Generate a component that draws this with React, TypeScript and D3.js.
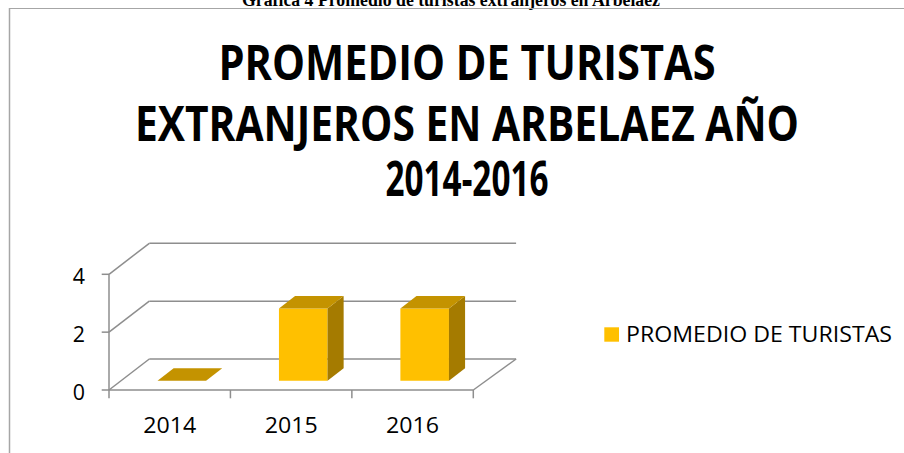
import React from "react";
import * as d3 from "d3";

const categories = ["2014", "2015", "2016"];
const values = [0, 2.5, 2.5];
const yTicks = [0, 2, 4];
const seriesName = "PROMEDIO DE TURISTAS";
const titleLines = ["PROMEDIO DE TURISTAS", "EXTRANJEROS EN ARBELAEZ AÑO", "2014-2016"];
const caption = "Gráfica 4 Promedio de turistas extranjeros en Arbelaez";

const W = 904;
const H = 453;
const DX = 40.3;
const DY = -31;
const Z0 = 0.3;
const Z1 = 0.7;
const GRID = "#8e8e8e";
const FRONT = "#FFC000";
const TOP = "#C49300";
const SIDE = "#A57B00";
const FONT = "'Open Sans', sans-serif";

export default function App() {
  const x = d3.scaleBand<string>().domain(categories).range([109, 473.3]).padding(0);
  const y = d3.scaleLinear().domain([0, 4]).range([390, 274.3]);
  const bw = x.bandwidth();
  const barW = bw / 2.5;
  const P = (px: number, py: number, z: number): [number, number] => [px + z * DX, py + z * DY];
  const poly = (pts: [number, number][]) => pts.map((p) => p.join(",")).join(" ");
  const x0 = x.range()[0];
  const x1 = x.range()[1];

  const titleWidths = [497, 664, 163];
  const titleBase = [80, 141, 196];

  return (
    <svg width={W} height={H} style={{ position: "absolute", left: 0, top: 0, background: "#fff" }}>
      <rect x={0} y={0} width={W} height={H} fill="#fff" />
      {/* page caption */}
      <text
        x={451}
        y={6}
        textAnchor="middle"
        fontFamily="'Liberation Serif', serif"
        fontWeight="bold"
        fontSize={18}
        textLength={418}
        lengthAdjust="spacingAndGlyphs"
      >
        {caption}
      </text>
      {/* chart frame */}
      <line x1={9.5} y1={8} x2={9.5} y2={H} stroke="#a6a6a6" strokeWidth={1.5} />
      <line x1={9} y1={8.5} x2={W} y2={8.5} stroke="#a6a6a6" strokeWidth={1.2} />

      {/* title */}
      {titleLines.map((t, i) => (
        <text
          key={i}
          x={467}
          y={titleBase[i]}
          textAnchor="middle"
          fontFamily={FONT}
          fontWeight="bold"
          fontSize={48}
          textLength={titleWidths[i]}
          lengthAdjust="spacingAndGlyphs"
          fill="#000"
        >
          {t}
        </text>
      ))}

      {/* back wall gridlines and left wall diagonals */}
      {yTicks.map((t) => {
        const a = P(x0, y(t), 0);
        const b = P(x0, y(t), 1);
        const c = P(x1, y(t), 1);
        return (
          <g key={t}>
            <line x1={a[0]} y1={a[1]} x2={b[0]} y2={b[1]} stroke={GRID} strokeWidth={1.5} />
            <line x1={b[0]} y1={b[1]} x2={c[0] + 2.5} y2={c[1]} stroke={GRID} strokeWidth={1.5} />
            <line x1={x0 - 7.3} y1={y(t)} x2={x0} y2={y(t)} stroke={GRID} strokeWidth={1.5} />
            <text
              x={85}
              y={y(t) + 9.5}
              textAnchor="end"
              fontFamily={FONT}
              fontSize={21.4}
              fill="#000"
            >
              {t}
            </text>
          </g>
        );
      })}

      {/* floor front and right edge */}
      {(() => {
        const r0 = P(x1, y(0), 0);
        const r1 = P(x1, y(0), 1);
        return (
          <g>
            <line x1={x0} y1={y(0)} x2={x1} y2={y(0)} stroke={GRID} strokeWidth={1.5} />
            <line x1={r0[0]} y1={r0[1]} x2={r1[0] + 2.5} y2={r1[1]} stroke={GRID} strokeWidth={1.5} />
          </g>
        );
      })()}
      {/* vertical axis */}
      <line x1={x0} y1={y(4)} x2={x0} y2={y(0) + 8.3} stroke={GRID} strokeWidth={1.5} />
      {/* category ticks */}
      {categories.map((c, i) => {
        const xx = (x(c) as number) + bw;
        return <line key={i} x1={xx} y1={y(0)} x2={xx} y2={y(0) + 8.3} stroke={GRID} strokeWidth={1.5} />;
      })}
      {categories.map((c) => (
        <text
          key={c}
          x={(x(c) as number) + bw / 2}
          y={432.7}
          textAnchor="middle"
          fontFamily={FONT}
          fontSize={21.4}
          textLength={53}
          lengthAdjust="spacingAndGlyphs"
          fill="#000"
        >
          {c}
        </text>
      ))}

      {/* bars */}
      {categories.map((c, i) => {
        const v = values[i];
        const l = (x(c) as number) + (bw - barW) / 2;
        const r = l + barW;
        const ft = y(v);
        const fb = y(0);
        const flt = P(l, ft, Z0);
        const frt = P(r, ft, Z0);
        const frb = P(r, fb, Z0);
        const flb = P(l, fb, Z0);
        const blt = P(l, ft, Z1);
        const brt = P(r, ft, Z1);
        const brb = P(r, fb, Z1);
        return (
          <g key={c}>
            {v > 0 && <polygon points={poly([flt, frt, frb, flb])} fill={FRONT} />}
            {v > 0 && <polygon points={poly([frt, brt, brb, frb])} fill={SIDE} />}
            <polygon points={poly([flt, frt, brt, blt])} fill={TOP} />
          </g>
        );
      })}

      {/* legend */}
      <rect x={604.3} y={327.3} width={14.7} height={14.4} fill={FRONT} />
      <text
        x={626}
        y={341.7}
        fontFamily={FONT}
        fontSize={22}
        textLength={266}
        lengthAdjust="spacingAndGlyphs"
        fill="#000"
      >
        {seriesName}
      </text>
    </svg>
  );
}
